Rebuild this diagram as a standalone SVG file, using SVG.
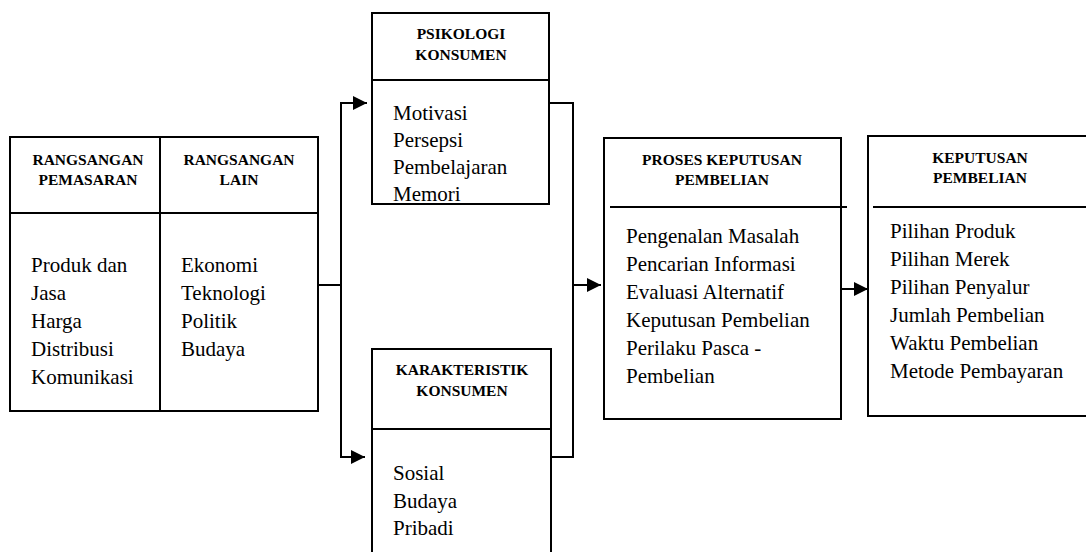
<svg xmlns="http://www.w3.org/2000/svg" width="1086" height="552" viewBox="0 0 1086 552">
<style>
.b{fill:none;stroke:#000;stroke-width:2}
.l{fill:none;stroke:#000;stroke-width:2}
.h{font-family:"Liberation Serif",serif;font-weight:bold;font-size:15.5px;text-anchor:middle;fill:#000}
.t{font-family:"Liberation Serif",serif;font-size:21px;fill:#000}
</style>
<defs>
<marker id="a" viewBox="0 0 10 10" refX="10" refY="5" markerWidth="14" markerHeight="14" markerUnits="userSpaceOnUse" orient="auto"><path d="M0,0L10,5L0,10z" fill="#000"/></marker>
</defs>
<rect width="1086" height="552" fill="#fff"/>
<g id="rangsangan">
<rect class="b" x="10" y="137" width="308" height="274"/>
<line class="b" x1="160" y1="137" x2="160" y2="411"/>
<line class="b" x1="10" y1="213" x2="318" y2="213"/>
<text class="h" x="88" y="165">RANGSANGAN</text>
<text class="h" x="88" y="185">PEMASARAN</text>
<text class="h" x="239" y="165">RANGSANGAN</text>
<text class="h" x="239" y="185">LAIN</text>
<text class="t" x="31" y="272">Produk dan</text>
<text class="t" x="31" y="300">Jasa</text>
<text class="t" x="31" y="328">Harga</text>
<text class="t" x="31" y="356">Distribusi</text>
<text class="t" x="31" y="384">Komunikasi</text>
<text class="t" x="181" y="272">Ekonomi</text>
<text class="t" x="181" y="300">Teknologi</text>
<text class="t" x="181" y="328">Politik</text>
<text class="t" x="181" y="356">Budaya</text>
</g>
<g id="psikologi">
<rect class="b" x="372" y="13" width="177" height="191"/>
<line class="b" x1="372" y1="80" x2="549" y2="80"/>
<text class="h" x="461" y="39">PSIKOLOGI</text>
<text class="h" x="461" y="60">KONSUMEN</text>
<text class="t" x="393" y="120">Motivasi</text>
<text class="t" x="393" y="147">Persepsi</text>
<text class="t" x="393" y="174">Pembelajaran</text>
<text class="t" x="393" y="201">Memori</text>
</g>
<g id="karakteristik">
<path class="b" d="M372,553V349H551V553"/>
<line class="b" x1="372" y1="429" x2="551" y2="429"/>
<text class="h" x="462" y="375">KARAKTERISTIK</text>
<text class="h" x="462" y="396">KONSUMEN</text>
<text class="t" x="393" y="480">Sosial</text>
<text class="t" x="393" y="508">Budaya</text>
<text class="t" x="393" y="535">Pribadi</text>
</g>
<g id="proses">
<rect class="b" x="604" y="138" width="237" height="281"/>
<line class="b" x1="610" y1="207" x2="847" y2="207"/>
<text class="h" x="722" y="165">PROSES KEPUTUSAN</text>
<text class="h" x="722" y="185">PEMBELIAN</text>
<text class="t" x="626" y="243">Pengenalan Masalah</text>
<text class="t" x="626" y="271">Pencarian Informasi</text>
<text class="t" x="626" y="299">Evaluasi Alternatif</text>
<text class="t" x="626" y="327">Keputusan Pembelian</text>
<text class="t" x="626" y="355">Perilaku Pasca -</text>
<text class="t" x="626" y="383">Pembelian</text>
</g>
<g id="keputusan">
<path class="b" d="M1087,136H868V416H1087"/>
<line class="b" x1="873" y1="207" x2="1087" y2="207"/>
<text class="h" x="980" y="163">KEPUTUSAN</text>
<text class="h" x="980" y="183">PEMBELIAN</text>
<text class="t" x="890" y="238">Pilihan Produk</text>
<text class="t" x="890" y="266">Pilihan Merek</text>
<text class="t" x="890" y="294">Pilihan Penyalur</text>
<text class="t" x="890" y="322">Jumlah Pembelian</text>
<text class="t" x="890" y="350">Waktu Pembelian</text>
<text class="t" x="890" y="378">Metode Pembayaran</text>
</g>
<g id="connectors">
<path class="l" d="M318,285H341"/>
<path class="l" d="M341,457V103H367" marker-end="url(#a)"/>
<path class="l" d="M341,285V457H365" marker-end="url(#a)"/>
<path class="l" d="M549,103H573V457H551"/>
<path class="l" d="M573,285H601" marker-end="url(#a)"/>
<path class="l" d="M841,289H868" marker-end="url(#a)"/>
</g>
</svg>
